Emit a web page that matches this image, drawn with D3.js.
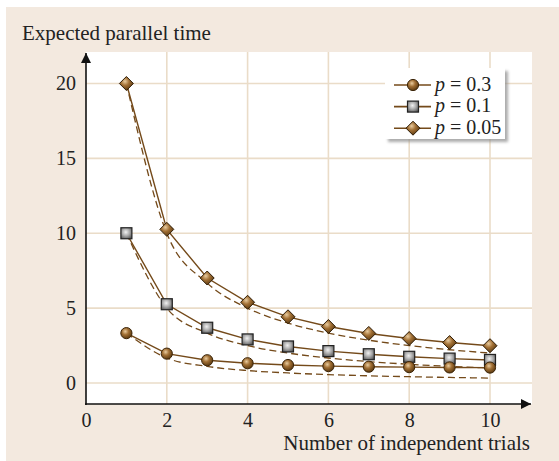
<!DOCTYPE html>
<html>
<head>
<meta charset="utf-8">
<script src="https://cdn.jsdelivr.net/npm/d3@7"></script>
<style>
  body { margin: 0; background: #fff; }
  text { font-family: "Liberation Serif", "Times New Roman", serif; fill: #222; }
</style>
</head>
<body>
<svg id="chart" width="559" height="461"></svg>
<script>
// data
var trials = [1, 2, 3, 4, 5, 6, 7, 8, 9, 10];
var xTicks = [0, 2, 4, 6, 8, 10];
var yTicks = [0, 5, 10, 15, 20];

var solid03 = [3.33, 1.96, 1.52, 1.32, 1.2, 1.13, 1.09, 1.06, 1.04, 1.03];
var dashed03 = [3.33, 1.67, 1.11, 0.83, 0.67, 0.56, 0.48, 0.42, 0.37, 0.33];
var solid01 = [10, 5.26, 3.69, 2.91, 2.44, 2.13, 1.92, 1.75, 1.63, 1.54];
var dashed01 = [10, 5, 3.33, 2.5, 2, 1.67, 1.43, 1.25, 1.11, 1.0];
var solid005 = [20, 10.26, 7.01, 5.39, 4.42, 3.77, 3.31, 2.97, 2.7, 2.49];
var dashed005 = [20, 10, 6.67, 5, 4, 3.33, 2.86, 2.5, 2.22, 2.0];

var seriesNames = ["0.3", "0.1", "0.05"];
var series = [
  { name: "0.05", solid: solid005, dashed: dashed005, shape: "diamond" },
  { name: "0.1", solid: solid01, dashed: dashed01, shape: "square" },
  { name: "0.3", solid: solid03, dashed: dashed03, shape: "circle" }
];

var lineColor = "#744a1a";

var svg = d3.select("svg#chart");

// gradients for the markers
var defs = svg.append("defs");
var gb = defs.append("radialGradient").attr("id", "brown")
  .attr("cx", "40%").attr("cy", "35%").attr("r", "65%");
gb.append("stop").attr("offset", "0%").attr("stop-color", "#e9cc9f");
gb.append("stop").attr("offset", "45%").attr("stop-color", "#a27035");
gb.append("stop").attr("offset", "100%").attr("stop-color", "#5c3a10");
var gg = defs.append("radialGradient").attr("id", "gray")
  .attr("cx", "45%").attr("cy", "40%").attr("r", "70%");
gg.append("stop").attr("offset", "0%").attr("stop-color", "#f2f2f2");
gg.append("stop").attr("offset", "50%").attr("stop-color", "#a8a8a8");
gg.append("stop").attr("offset", "100%").attr("stop-color", "#505050");
defs.append("marker").attr("id", "arrow")
  .attr("viewBox", "0 0 10 10").attr("refX", 10).attr("refY", 5)
  .attr("markerWidth", 10).attr("markerHeight", 10)
  .attr("markerUnits", "userSpaceOnUse")
  .attr("orient", "auto")
  .append("path").attr("d", "M0,0 L10,5 L0,10 Z").attr("fill", "#111");
var blur = defs.append("filter").attr("id", "shadow")
  .attr("x", "-10%").attr("y", "-10%").attr("width", "130%").attr("height", "140%");
blur.append("feGaussianBlur").attr("stdDeviation", 1.5);

// background panel
svg.append("rect").attr("x", 6).attr("y", 7).attr("width", 553).attr("height", 454)
  .attr("fill", "#f3e9df");
svg.append("rect").attr("x", 86).attr("y", 52).attr("width", 446).attr("height", 352)
  .attr("fill", "#fff");

// scales
var x = d3.scaleLinear().domain([0, 10]).range([86, 490]);
var y = d3.scaleLinear().domain([0, 20]).range([383, 83.5]);

// grid
svg.append("g").selectAll("line").data(xTicks.slice(1)).enter().append("line")
  .attr("x1", function (d) { return x(d); }).attr("x2", function (d) { return x(d); })
  .attr("y1", 52).attr("y2", 404)
  .attr("stroke", "#eadcc8").attr("stroke-width", 1.6);
svg.append("g").selectAll("line").data(yTicks).enter().append("line")
  .attr("x1", 86).attr("x2", 532)
  .attr("y1", function (d) { return y(d); }).attr("y2", function (d) { return y(d); })
  .attr("stroke", "#eadcc8").attr("stroke-width", 1.6);

// axes
var xAxis = svg.append("g")
  .attr("transform", "translate(0,404)")
  .call(d3.axisBottom(x).tickValues(xTicks).tickSize(0).tickPadding(9))
  .attr("font-family", "Liberation Serif").attr("font-size", 20);
xAxis.select(".domain").remove();
xAxis.selectAll("text").attr("fill", "#222")
  .style("font-family", "'Liberation Serif', serif").style("font-size", "20px");

var yAxis = svg.append("g")
  .attr("transform", "translate(86,0)")
  .call(d3.axisLeft(y).tickValues(yTicks).tickSize(0).tickPadding(10))
  .attr("font-family", "Liberation Serif").attr("font-size", 20);
yAxis.select(".domain").remove();
yAxis.selectAll("text").attr("fill", "#222")
  .style("font-family", "'Liberation Serif', serif").style("font-size", "20px");

svg.append("line").attr("x1", 85).attr("x2", 531).attr("y1", 404).attr("y2", 404)
  .attr("stroke", "#111").attr("stroke-width", 1.6).attr("marker-end", "url(#arrow)");
svg.append("line").attr("x1", 86).attr("x2", 86).attr("y1", 405).attr("y2", 53)
  .attr("stroke", "#111").attr("stroke-width", 1.6).attr("marker-end", "url(#arrow)");

// labels
svg.append("text").attr("x", 22).attr("y", 40).style("font-size", "21px")
  .text("Expected parallel time");
svg.append("text").attr("x", 530).attr("y", 450).attr("text-anchor", "end")
  .style("font-size", "21px").text("Number of independent trials");

// marker drawing
function drawMarker(sel, shape) {
  if (shape === "circle") {
    sel.append("circle").attr("r", 5.6)
      .attr("fill", "url(#brown)").attr("stroke", "#3b2408").attr("stroke-width", 1);
  } else if (shape === "square") {
    sel.append("rect").attr("x", -5.5).attr("y", -5.5).attr("width", 11).attr("height", 11)
      .attr("fill", "url(#gray)").attr("stroke", "#222").attr("stroke-width", 1.2);
  } else {
    sel.append("path").attr("d", "M0,-7 L7,0 L0,7 L-7,0 Z")
      .attr("fill", "url(#brown)").attr("stroke", "#2e1c06").attr("stroke-width", 1);
  }
}

var solidLine = d3.line()
  .x(function (d, i) { return x(trials[i]); })
  .y(function (d) { return y(d); });
var dashedLine = d3.line()
  .x(function (d, i) { return x(trials[i]); })
  .y(function (d) { return y(d); })
  .curve(d3.curveMonotoneX);

series.forEach(function (s) {
  svg.append("path").attr("d", dashedLine(s.dashed))
    .attr("fill", "none").attr("stroke", lineColor).attr("stroke-width", 1.3)
    .attr("stroke-dasharray", "7,4");
});
series.forEach(function (s) {
  svg.append("path").attr("d", solidLine(s.solid))
    .attr("fill", "none").attr("stroke", lineColor).attr("stroke-width", 1.4);
});
series.forEach(function (s) {
  var pts = svg.append("g").selectAll("g").data(s.solid).enter().append("g")
    .attr("transform", function (d, i) { return "translate(" + x(trials[i]) + "," + y(d) + ")"; });
  drawMarker(pts, s.shape);
});

// legend
var legend = svg.append("g");
legend.append("rect").attr("x", 388).attr("y", 71).attr("width", 120).attr("height", 71)
  .attr("fill", "#888").attr("opacity", 0.7).attr("filter", "url(#shadow)");
legend.append("rect").attr("x", 385).attr("y", 68).attr("width", 120).attr("height", 71)
  .attr("fill", "#fff");
var shapes = { "0.3": "circle", "0.1": "square", "0.05": "diamond" };
seriesNames.forEach(function (name, i) {
  var cy = 85 + i * 21.6;
  legend.append("line").attr("x1", 394).attr("x2", 431).attr("y1", cy).attr("y2", cy)
    .attr("stroke", lineColor).attr("stroke-width", 1.6);
  var g = legend.append("g").attr("transform", "translate(413," + cy + ")");
  drawMarker(g, shapes[name]);
  var t = legend.append("text").attr("x", 435).attr("y", cy + 5.5).style("font-size", "20px");
  t.append("tspan").style("font-style", "italic").text("p");
  t.append("tspan").text(" = " + name);
});
</script>
</body>
</html>
